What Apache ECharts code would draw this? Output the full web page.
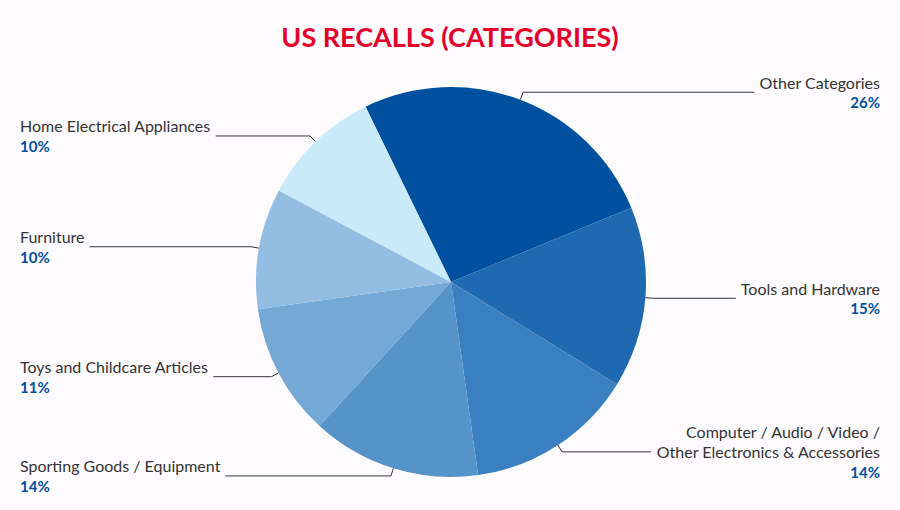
<!DOCTYPE html>
<html>
<head>
<meta charset="utf-8">
<script src="https://cdn.jsdelivr.net/npm/echarts@6/dist/echarts.min.js"></script>
<style>html,body{margin:0;background:#fdfbfe;}#chart{width:900px;height:510px;}</style>
</head>
<body>
<div id="chart"></div>
<script>
  var categories = ['Other Categories', 'Tools and Hardware', 'Computer / Audio / Video /\nOther Electronics & Accessories',
    'Sporting Goods / Equipment', 'Toys and Childcare Articles', 'Furniture', 'Home Electrical Appliances'];
  var shares = [26, 15, 14, 14, 11, 10, 10];
  var colors = ['#0050a0', '#1f69b0', '#3a7fbf', '#5593c9', '#74a9d6', '#93bee2', '#c8eaf9'];

  var chart = echarts.init(document.getElementById('chart'), null, { renderer: 'svg' });

  var option = {
    backgroundColor: '#fdfbfe',
    title: {
      text: 'US RECALLS (CATEGORIES)',
      left: 'center',
      top: 18,
      textStyle: { color: '#e4002b', fontSize: 27, fontWeight: 'bold', fontFamily: 'Lato' }
    },
    series: [{
      type: 'pie',
      center: [451, 282],
      radius: 195,
      startAngle: 116,
      clockwise: true,
      silent: true,
      data: categories.map(function (c, i) {
        return { name: c, value: shares[i], itemStyle: { color: colors[i] } };
      }),
      label: {
        show: true,
        position: 'outside',
        alignTo: 'edge',
        edgeDistance: 20,
        formatter: '{n|{b}}\n{p|{c}%}',
        rich: {
          n: { fontSize: 16, color: '#333', fontFamily: 'Lato', lineHeight: 20 },
          p: { fontSize: 15, color: '#0050a0', fontWeight: 'bold', fontFamily: 'Lato', lineHeight: 20 }
        }
      },
      labelLine: {
        length: 8,
        length2: 0,
        lineStyle: { color: '#333', width: 1 }
      }
    }]
  };

  chart.setOption(option);
  window.addEventListener('resize', chart.resize);
</script>
</body>
</html>
